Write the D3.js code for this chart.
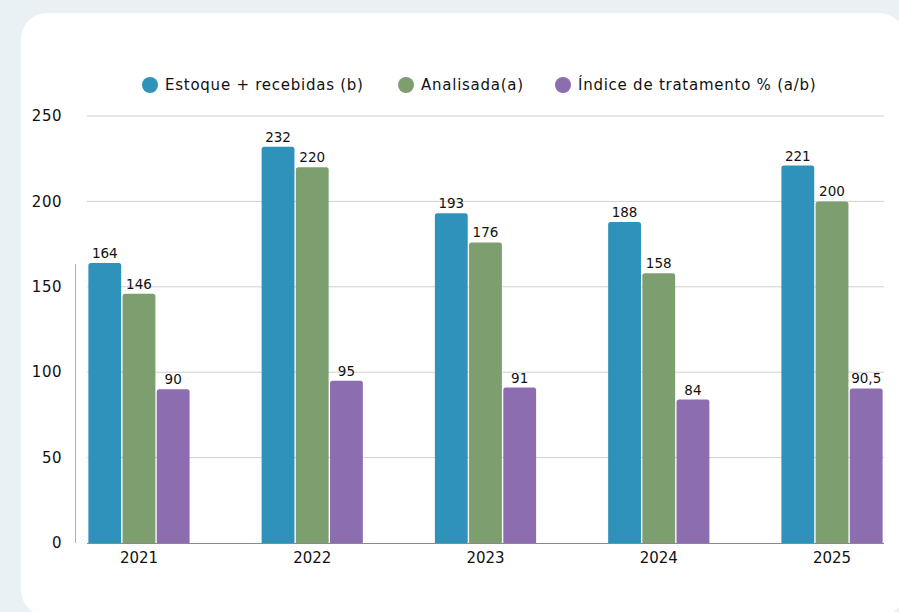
<!DOCTYPE html>
<html>
<head>
<meta charset="utf-8">
<script src="https://cdn.jsdelivr.net/npm/d3@7"></script>
<style>
  body { margin: 0; background: #e9f1f4; }
</style>
</head>
<body>
<div id="chart"></div>
<script>
const years = ["2021", "2022", "2023", "2024", "2025"];
const seriesNames = ["Estoque + recebidas (b)", "Analisada(a)", "Índice de tratamento % (a/b)"];
const estoque = [164, 232, 193, 188, 221];
const analisada = [146, 220, 176, 158, 200];
const indice = [90, 95, 91, 84, 90.5];
const yTicks = [0, 50, 100, 150, 200, 250];

const colors = ["#2e92bb", "#7d9f70", "#8c6daf"];

const width = 899;
const height = 612;
const font = "'DejaVu Sans', sans-serif";

const svg = d3.select("#chart").append("svg")
  .attr("width", width)
  .attr("height", height)
  .style("display", "block");

// background card
svg.append("rect").attr("width", width).attr("height", height).attr("fill", "#e9f1f4");
svg.append("rect")
  .attr("x", 21).attr("y", 13)
  .attr("width", 884).attr("height", 603)
  .attr("rx", 26)
  .attr("fill", "white");

const rows = years.map((yr, i) => ({ year: yr, values: [estoque[i], analisada[i], indice[i]] }));

const x0 = d3.scaleBand().domain(years).range([87, 884]).paddingInner(0.4).paddingOuter(0);
const x1 = d3.scaleBand().domain([0, 1, 2]).range([0, x0.bandwidth()]).padding(0.04);
const y = d3.scaleLinear().domain([0, 250]).range([543, 116]);

// gridlines
svg.append("g")
  .selectAll("line")
  .data(yTicks.filter(d => d > 0))
  .join("line")
  .attr("x1", 87).attr("x2", 884)
  .attr("y1", d => y(d)).attr("y2", d => y(d))
  .attr("stroke", "#d0d0d0")
  .attr("stroke-width", 1);

// partial y axis line
svg.append("line")
  .attr("x1", 75.5).attr("x2", 75.5)
  .attr("y1", 264).attr("y2", 543)
  .attr("stroke", "#8fb8cc").attr("stroke-width", 1);

// y tick labels
svg.append("g")
  .selectAll("text")
  .data(yTicks)
  .join("text")
  .attr("x", 62)
  .attr("y", d => y(d))
  .attr("dy", "0.35em")
  .attr("text-anchor", "end")
  .attr("font-family", font)
  .attr("font-size", 15)
  .attr("letter-spacing", 0.5)
  .attr("fill", "#111")
  .text(d => d);

function barPath(x, yTop, w, yBase, r) {
  r = Math.min(r, yBase - yTop);
  return `M${x},${yBase}V${yTop + r}Q${x},${yTop} ${x + r},${yTop}H${x + w - r}Q${x + w},${yTop} ${x + w},${yTop + r}V${yBase}Z`;
}

const groups = svg.append("g")
  .selectAll("g")
  .data(rows)
  .join("g")
  .attr("transform", d => `translate(${x0(d.year)},0)`);

groups.selectAll("path")
  .data(d => d.values.map((v, k) => ({ k, v })))
  .join("path")
  .attr("d", d => barPath(x1(d.k), y(d.v), x1.bandwidth(), y(0), 2.5))
  .attr("fill", d => colors[d.k]);

groups.selectAll("text")
  .data(d => d.values.map((v, k) => ({ k, v })))
  .join("text")
  .attr("x", d => x1(d.k) + x1.bandwidth() / 2)
  .attr("y", d => y(d.v) - 5)
  .attr("text-anchor", "middle")
  .attr("font-family", font)
  .attr("font-size", 13.5)
  .attr("fill", "#111")
  .text(d => String(d.v).replace(".", ","));

// baseline
svg.append("line")
  .attr("x1", 87).attr("x2", 884)
  .attr("y1", 543.5).attr("y2", 543.5)
  .attr("stroke", "#8a8a8a").attr("stroke-width", 1);

// x labels
svg.append("g")
  .selectAll("text")
  .data(years)
  .join("text")
  .attr("x", d => x0(d) + x0.bandwidth() / 2)
  .attr("y", 558)
  .attr("dy", "0.35em")
  .attr("text-anchor", "middle")
  .attr("font-family", font)
  .attr("font-size", 15)
  .attr("fill", "#111")
  .text(d => d);

// legend
const legendX = [150, 406, 563];
const legend = svg.append("g")
  .selectAll("g")
  .data(seriesNames)
  .join("g")
  .attr("transform", (d, i) => `translate(${legendX[i]},85)`);

legend.append("circle").attr("r", 8).attr("fill", (d, i) => colors[i]);
legend.append("text")
  .attr("x", 15)
  .attr("dy", "0.35em")
  .attr("font-family", font)
  .attr("font-size", 15)
  .attr("letter-spacing", 0.75)
  .attr("fill", "#111")
  .text(d => d);
</script>
</body>
</html>
